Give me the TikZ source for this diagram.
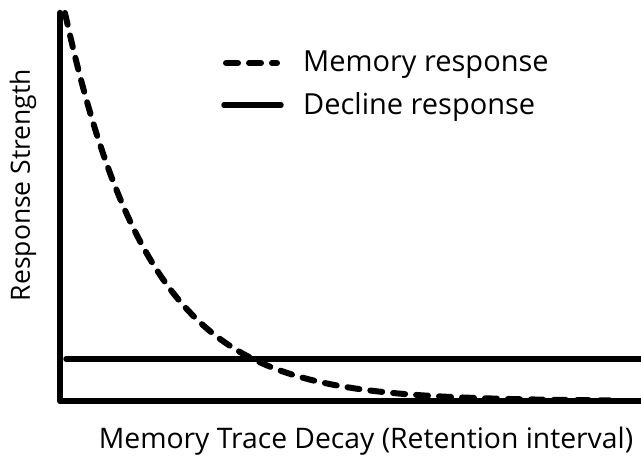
\documentclass[tikz,border=0pt]{standalone}
\usepackage{fontspec}
\setmainfont{Open Sans}
\usetikzlibrary{positioning}

\begin{document}
\begin{tikzpicture}[x=1pt,y=-1pt]
        \tikzset{axisline/.style={line width=6.5pt,line join=round,line cap=round},
            memline/.style={line width=6pt,line cap=round,dash pattern=on 12pt off 11pt},
            declline/.style={line width=5.5pt,line cap=round},
            legtext/.style={font=\fontsize{29}{31}\selectfont,anchor=base west,inner sep=0pt},
            axistext/.style={font=\fontsize{28.3}{30}\selectfont,inner sep=0pt}}
        \useasboundingbox (0,0) rectangle (641,468);
        % axes
        \coordinate (top) at (60,13);
        \coordinate (origin) at (60,401);
        \coordinate (right) at (644,401);
        \draw[axisline] (top) -- (origin) -- (right);
        % decline response
        \coordinate (declstart) at (66,359);
        \coordinate (declend) at (644,359);
        \draw[declline] (declstart) -- (declend);
        % memory response
        \draw[memline] plot[domain=65:610,samples=120,smooth]
            (\x,{401-388*exp(-0.01183*(\x-65))});
        % legend
        \node[legtext] (memlabel) at (303,72) {Memory response};
        \node[legtext] (decllabel) at (303,115) {Decline response};
        \draw[memline] (226,63) -- (277,63);
        \draw[declline] (224,105) -- (281,105);
        % axis labels
        \node[axistext,rotate=90,font=\fontsize{26.5}{28}\selectfont] (ylabel) at (23,185) {Response Strength};
        \node[axistext] (xlabel) at (366,441) {Memory Trace Decay (Retention interval)};
\end{tikzpicture}
\end{document}
